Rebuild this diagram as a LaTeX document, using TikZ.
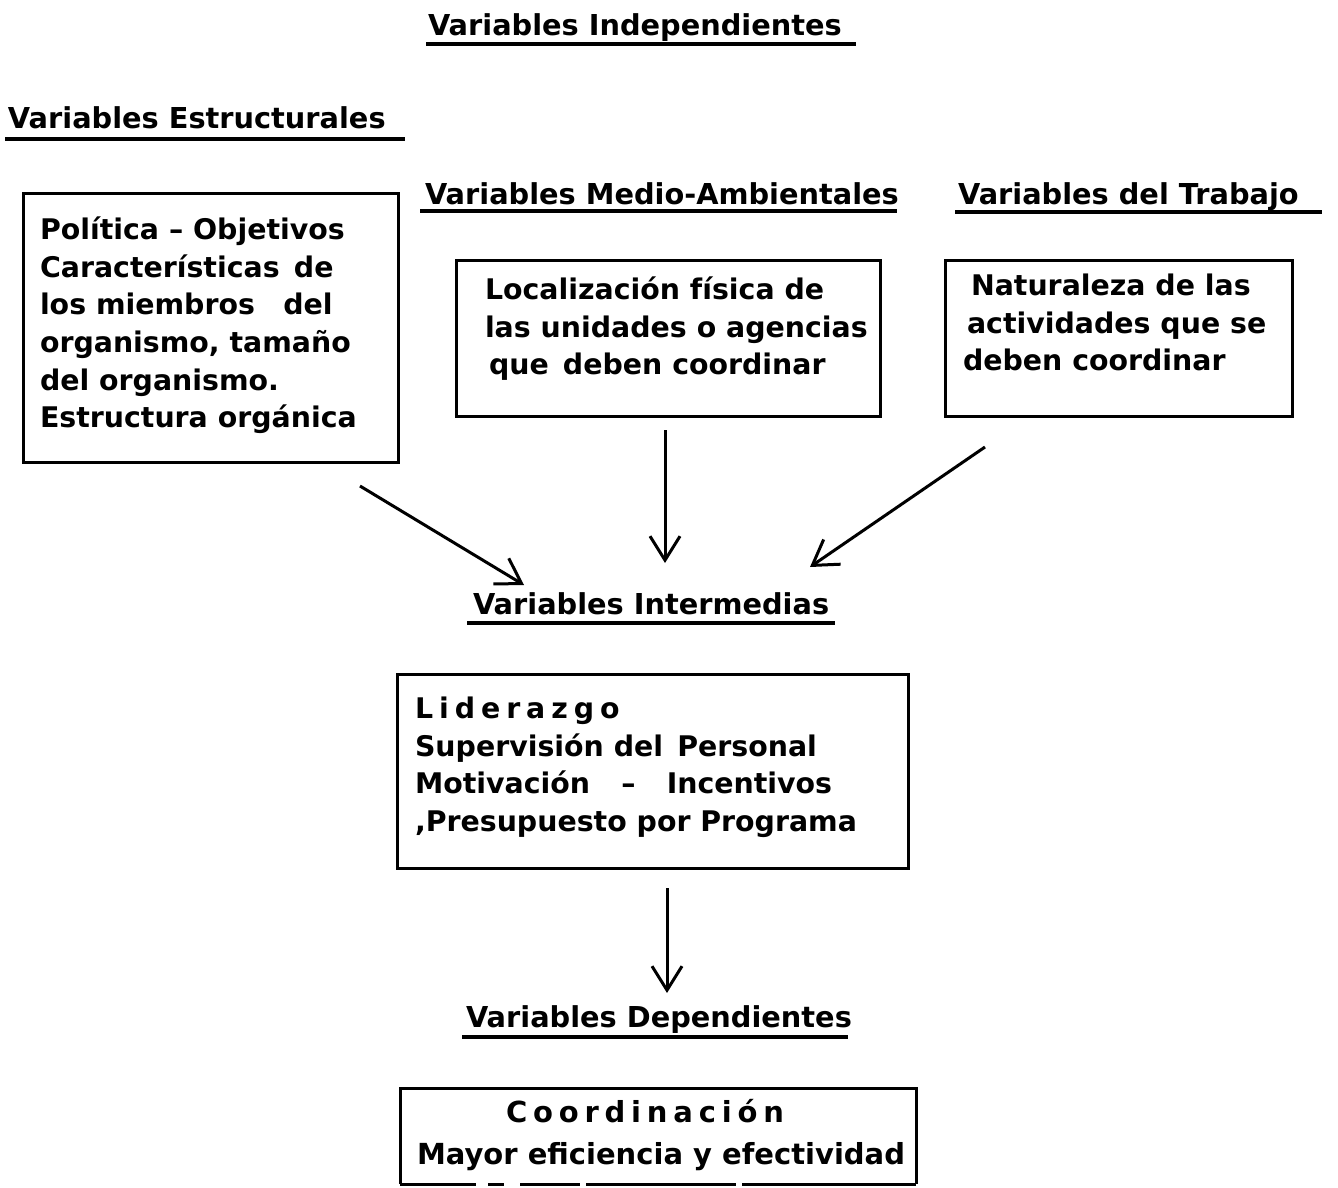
\documentclass[tikz,border=0pt]{standalone}
\usepackage{fontspec}
\setmainfont{DejaVu Sans}
\usetikzlibrary{arrows.meta,fit}
\begin{document}
\begin{tikzpicture}[x=0.5pt,y=-0.5pt,
  every node/.style={inner sep=0pt,outer sep=0pt},
  frame/.style={draw,line width=1.5pt},
  heading/.style={anchor=base west,font=\fontsize{14.4}{17}\selectfont\bfseries},
  uline/.style={line width=2pt},
  boxtext/.style={anchor=north west,align=left,font=\fontsize{14.2}{18.8}\selectfont\bfseries},
  spaced/.style={font=\fontsize{14.5}{18.8}\selectfont\bfseries\addfontfeature{LetterSpace=20}},
  link/.style={line width=1.5pt,-{Straight Barb[length=12pt,width=15pt,line width=1.5pt]}}]
\useasboundingbox[fill=white] (0,0) rectangle (1338,1188);

% headings with their underlines
\node[heading] (hind) at (428,36) {Variables Independientes};
\draw[uline] (426,44) -- (856,44);
\node[heading] (hest) at (8,128) {Variables Estructurales};
\draw[uline] (5,139) -- (405,139);
\node[heading] (hmed) at (425,204) {Variables Medio-Ambientales};
\draw[uline] (420,211) -- (897,211);
\node[heading] (htra) at (958,204) {Variables del Trabajo};
\draw[uline] (955,212) -- (1322,212);
\node[heading] (hint) at (473,614) {Variables Intermedias};
\draw[uline] (467,623) -- (835,623);
\node[heading] (hdep) at (466,1027) {Variables Dependientes};
\draw[uline] (462,1037) -- (848,1037);

% structural variables
\node[frame,fit={(23,193) (398,462)}] (b1) {};
\node[boxtext] (t1) at (40,217) {Política – Objetivos\\Características\enspace de\\los miembros\quad del\\organismo, tamaño\\del organismo.\\Estructura orgánica};

% environmental variables
\node[frame,fit={(456,260) (880,416)}] (b2) {};
\node[boxtext] (t2) at (485,277) {Localización física de\\las unidades o agencias\\\hspace{2pt}que\enspace deben coordinar};

% work variables
\node[frame,fit={(945,260) (1292,416)}] (b3) {};
\node[boxtext] (t3) at (963,274) {\hspace{4pt}Naturaleza de las\\\hspace{2pt}actividades que se\\deben coordinar};

% intermediate variables
\node[frame,fit={(397,674) (908,868)}] (b4) {};
\node[boxtext] (t4) at (415,697) {{\addfontfeature{LetterSpace=21}Liderazgo}\\Supervisión del\enspace Personal\\Motivación\hspace{1.1em}–\hspace{1.1em}Incentivos\\,Presupuesto por Programa};

% dependent variables: the lower edge is broken
\node[fit={(400,1088) (916,1184)}] (b5) {};
\draw[line width=1.5pt] (b5.south west) -- (b5.north west) -- (b5.north east) -- (b5.south east);
\draw[line width=1.5pt,dash pattern=on 38pt off 6pt on 8pt off 8pt on 30pt off 3pt on 75pt off 3pt on 100pt]
  (b5.south west) -- (b5.south east);
\node[spaced,anchor=base] (t5a) at (645,1122) {Coordinación};
\node[anchor=base west,font=\fontsize{14.5}{18.8}\selectfont\bfseries] (t5b) at (417,1164) {Mayor eficiencia y efectividad};

% arrows
\coordinate (a1s) at (360,486);
\coordinate (a1e) at (524,585);
\coordinate (a2s) at (665,430);
\coordinate (a2e) at (665,563);
\coordinate (a3s) at (985,447);
\coordinate (a3e) at (810,567);
\coordinate (a4s) at (667,888);
\coordinate (a4e) at (667,993);
\draw[link] (a1s) -- (a1e);
\draw[link] (a2s) -- (a2e);
\draw[link] (a3s) -- (a3e);
\draw[link] (a4s) -- (a4e);
\end{tikzpicture}
\end{document}
